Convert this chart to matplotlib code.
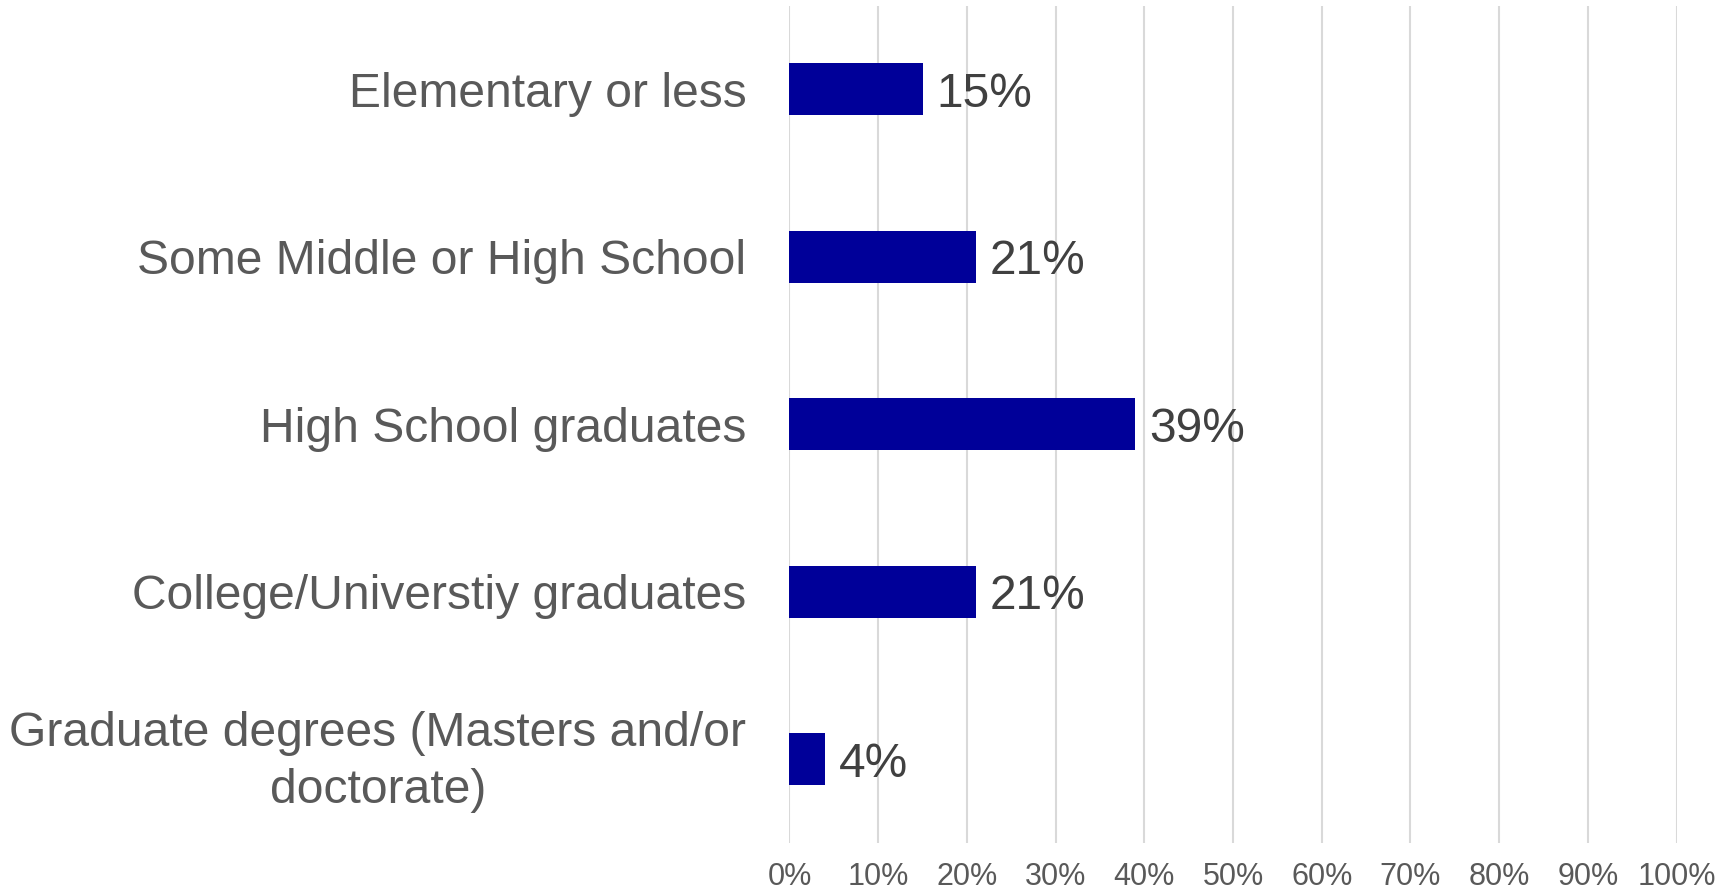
import matplotlib
matplotlib.use("Agg")
import matplotlib.pyplot as plt
import matplotlib.transforms as mtransforms
from matplotlib.ticker import PercentFormatter

plt.rcParams["font.family"] = ["Liberation Sans", "DejaVu Sans"]

# 数据
categories = [
    "Elementary or less",
    "Some Middle or High School",
    "High School graduates",
    "College/Universtiy graduates",
    "Graduate degrees (Masters and/or\ndoctorate)",
]
values = [15, 21, 39, 21, 4]
xticks = list(range(0, 101, 10))

fig = plt.figure(figsize=(17.34, 8.93), dpi=100)
ax = fig.add_axes([0.4553, 0.056, 0.5116, 0.9378])

ypos = list(range(len(categories)))
ax.barh(ypos, values, height=0.31, color="#000099", zorder=3)

for y, v in zip(ypos, values):
    ax.annotate(f"{v}%", xy=(v, y), xytext=(10, 0), textcoords="offset points",
                ha="left", va="center_baseline", fontsize=34.5, color="#404040")

ax.set_ylim(len(categories) - 0.5, -0.5)
ax.set_xlim(0, 100)
ax.set_yticks(ypos)
ax.set_yticklabels(categories, fontsize=34.6, color="#595959")
ax.set_xticks(xticks)
ax.xaxis.set_major_formatter(PercentFormatter(decimals=0))
ax.tick_params(axis="x", labelsize=22, labelcolor="#595959", length=0, pad=14)
ax.tick_params(axis="y", length=0, pad=31)

# 两行标签：居中对齐并略微上移
shift = mtransforms.ScaledTranslation(0, 0.085, fig.dpi_scale_trans)
for lbl in ax.get_yticklabels():
    lbl.set_multialignment("center")
    lbl.set_linespacing(1.35)
    if "\n" in lbl.get_text():
        lbl.set_transform(lbl.get_transform() + shift)

ax.grid(axis="x", color="#d9d9d9", linewidth=1.5, zorder=0)
for s in ax.spines.values():
    s.set_visible(False)

plt.savefig("out.png", dpi=100)
plt.close()
